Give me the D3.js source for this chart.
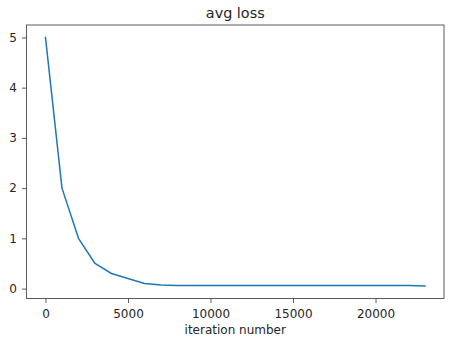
<!DOCTYPE html>
<html><head><meta charset="utf-8">
<script src="https://cdn.jsdelivr.net/npm/d3@7"></script>
<style>body{margin:0;background:#fff}svg{display:block}text{font-family:"DejaVu Sans",sans-serif;fill:#262626}</style>
</head><body><svg id="c" width="462" height="350"></svg>
<script>
const iterations = [0,1000,2000,3000,4000,5000,6000,7000,8000,9000,10000,11000,12000,13000,14000,15000,16000,17000,18000,19000,20000,21000,22000,23000];
const avgLoss = [5.0,2.0,1.0,0.5,0.3,0.2,0.1,0.07,0.06,0.06,0.06,0.06,0.06,0.06,0.06,0.06,0.06,0.06,0.06,0.06,0.06,0.06,0.06,0.05];
const xTicks = [0,5000,10000,15000,20000];
const yTicks = [0,1,2,3,4,5];
const title = "avg loss";
const xLabel = "iteration number";

const svg = d3.select("#c");
const L=26.5,R=444,T=25,B=298.5;
const xmin=d3.min(iterations),xmax=d3.max(iterations),ymin=d3.min(avgLoss),ymax=d3.max(avgLoss);
const xp=(xmax-xmin)*0.05, yp=(ymax-ymin)*0.05;
const x=d3.scaleLinear().domain([xmin-xp,xmax+xp]).range([L,R]);
const y=d3.scaleLinear().domain([ymin-yp,ymax+yp]).range([B,T]);

const line=d3.line().x((d,i)=>x(iterations[i])).y(d=>y(d));
svg.append("path").datum(avgLoss).attr("d",line).attr("fill","none").attr("stroke","#1f77b4").attr("stroke-width",1.5).attr("stroke-linejoin","round").attr("stroke-linecap","square");

const gx=svg.append("g").attr("transform",`translate(0,${B})`).call(d3.axisBottom(x).tickValues(xTicks).tickFormat(d3.format("d")).tickSize(4.5).tickPadding(4));
const gy=svg.append("g").attr("transform",`translate(${L},0)`).call(d3.axisLeft(y).tickValues(yTicks).tickFormat(d3.format("d")).tickSize(4.5).tickPadding(5));
[gx,gy].forEach(g=>{g.select(".domain").remove();g.selectAll("line").attr("stroke","#333").attr("stroke-width",0.8);g.selectAll("text").attr("font-size",12).attr("fill","#262626").style("font-family","DejaVu Sans");});
gx.selectAll("text").attr("dy",null).attr("y",19.5);

svg.append("rect").attr("x",L).attr("y",T).attr("width",R-L).attr("height",B-T).attr("fill","none").attr("stroke","#333").attr("stroke-width",0.8);

svg.append("text").attr("x",(L+R)/2).attr("y",18).attr("text-anchor","middle").attr("font-size",14.4).text(title);
svg.append("text").attr("x",(L+R)/2).attr("y",334).attr("text-anchor","middle").attr("font-size",12).text(xLabel);
</script></body></html>
